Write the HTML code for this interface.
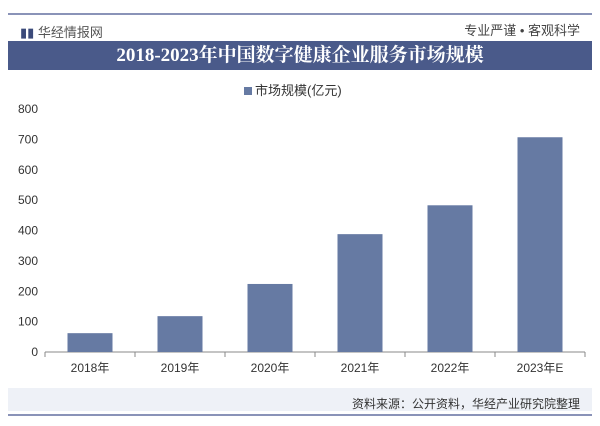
<!DOCTYPE html>
<html><head><meta charset="utf-8"><style>
body{margin:0;width:600px;height:426px;background:#fff;font-family:"Liberation Sans","Noto Sans CJK SC",sans-serif;position:relative;overflow:hidden}
.abs{position:absolute}
</style></head><body>
<div class="abs" style="left:8px;top:13px;width:584px;height:2px;background:#8a93b8"></div>
<div class="abs" style="left:20px;top:22px;font-size:13px;color:#3b4a7a">▮▮ <span style="color:#555">华经情报网</span></div>
<div class="abs" style="right:20px;top:20px;font-size:13px;color:#444">专业严谨 • 客观科学</div>
<div class="abs" style="left:8px;top:41px;width:584px;height:29px;background:#4a5a8a;color:#fff;font-family:'Liberation Serif','Noto Serif CJK SC',serif;font-weight:bold;font-size:19px;text-align:center;line-height:29px">2018-2023年中国数字健康企业服务市场规模</div>
<div class="abs" style="left:244px;top:80px;font-size:13px;color:#333"><span style="display:inline-block;width:8px;height:8px;background:#667aa3;margin-right:3px"></span>市场规模(亿元)</div>
<div class="abs" style="left:8px;top:388px;width:584px;height:23px;background:#eef1f7"></div>
<div class="abs" style="right:20px;top:395px;font-size:12px;color:#333">资料来源：公开资料，华经产业研究院整理</div>
<div class="abs" style="left:8px;top:414px;width:584px;height:2px;background:#8a93b8"></div>
<svg class="abs" style="left:0;top:0" width="600" height="426" id="chart"></svg>
<script>
const categories=["2018年","2019年","2020年","2021年","2022年","2023年E"];
const values=[62,118,224,388,483,707];
const ticks=[0,100,200,300,400,500,600,700,800];
const svg=document.getElementById('chart');
const NS='http://www.w3.org/2000/svg';
const x0=45,x1=585,y0=352,y1=109,ymax=800;
const y=v=>y0-(v/ymax)*(y0-y1);
const bw=(x1-x0)/categories.length;
function mk(t,a){const e=document.createElementNS(NS,t);for(const k in a)e.setAttribute(k,a[k]);svg.appendChild(e);return e;}
const ax=mk('line',{x1:x0,x2:x1,y1:y0,y2:y0,stroke:'#888'});


ticks.forEach(t=>{const tx=mk('text',{x:x0-7,y:y(t)+4,'text-anchor':'end','font-size':12,fill:'#333'});tx.textContent=t;

});
for(let i=0;i<=categories.length;i++){const l=mk('line',{x1:x0+i*bw,x2:x0+i*bw,y1:y0,y2:y0+5,stroke:'#888'});

}
categories.forEach((c,i)=>{const cx=x0+bw*(i+0.5);const w=45;
const r=mk('rect',{x:cx-w/2,y:y(values[i]),width:w,height:y0-y(values[i]),fill:'#667aa3'});


const t=mk('text',{x:cx,y:y0+20,'text-anchor':'middle','font-size':12,fill:'#333'});t.textContent=c;

});
</script>
</body></html>
